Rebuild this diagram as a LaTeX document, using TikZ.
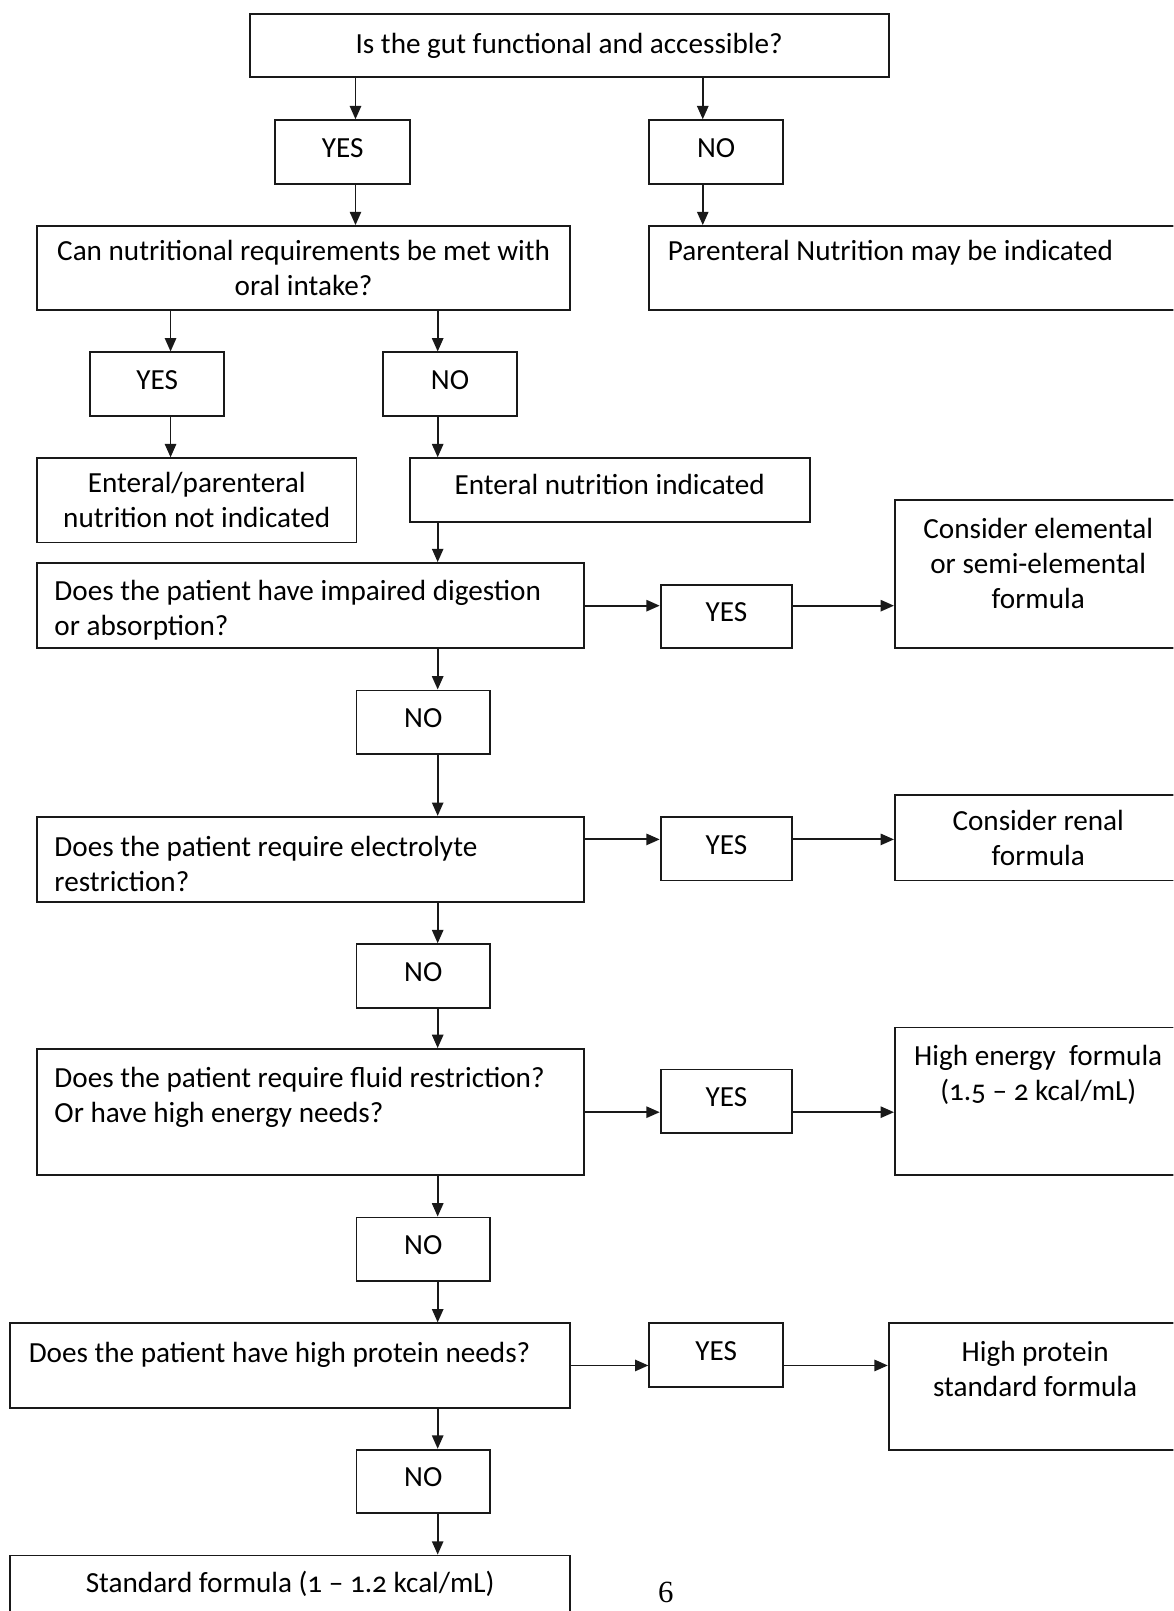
\documentclass[tikz,border=0pt]{standalone}
\usepackage{fontspec}
\setmainfont{Carlito}[Numbers=OldStyle]
\newfontfamily\pagefont{Liberation Serif}
\usetikzlibrary{arrows.meta}
\tikzset{
    box/.style={draw=black!90, line width=0.9pt, inner sep=2pt, font=\fontsize{14.2}{17}\selectfont},
    leftbox/.style={align=flush left, text width=#1},
    answer/.style={align=center, text depth=4pt},
    arr/.style={draw=black!90, line width=0.9pt, -{Triangle[length=6.5pt,width=5.5pt]}}
}
\NewDocumentCommand{\flowbox}{O{align=center} m m m m m m}{
    \node[box, #1, minimum width={(#5-#3)*0.5pt}, minimum height={(#6-#4)*0.5pt}]
        (#2) at ({(#3+#5)/2},{(#4+#6)/2}) {#7};
}
\begin{document}
\begin{tikzpicture}[x=0.5pt, y=-0.5pt]
        \useasboundingbox (0,0) rectangle (1142,1568);
        \clip (0,0) rectangle (1142,1568);
        \coordinate (colA) at (346,0);
        \coordinate (colB) at (684,0);
        \coordinate (colC) at (166,0);
        \coordinate (colD) at (426,0);
        \coordinate (rowD) at (0,817);

        % First question
        \flowbox{gut}{243}{14}{865}{75}{Is the gut functional and accessible?}
        \flowbox[answer]{yesA}{268}{117}{399}{179}{YES}
        \flowbox[answer]{noA}{632}{117}{762}{179}{NO}
        \flowbox{oral}{36}{220}{555}{302}{Can nutritional requirements be met with\\oral intake?}
        \flowbox[leftbox=241pt]{pn}{632}{220}{1150}{302}{Parenteral Nutrition may be indicated\\\mbox{}}
        \draw[arr] (gut.south -| colA) -- (yesA.north -| colA);
        \draw[arr] (gut.south -| colB) -- (noA.north -| colB);
        \draw[arr] (yesA.south -| colA) -- (oral.north -| colA);
        \draw[arr] (noA.south -| colB) -- (pn.north -| colB);

        % Oral intake
        \flowbox[answer]{yesB}{88}{343}{218}{405}{YES}
        \flowbox[answer]{noB}{373}{343}{503}{405}{NO}
        \flowbox{notind}{36}{446}{347}{528}{Enteral/parenteral\\nutrition not indicated}
        \flowbox[align=center, text depth=6pt]{enind}{399}{446}{788}{508}{Enteral nutrition indicated}
        \draw[arr] (oral.south -| colC) -- (yesB.north -| colC);
        \draw[arr] (oral.south -| colD) -- (noB.north -| colD);
        \draw[arr] (yesB.south -| colC) -- (notind.north -| colC);

        % Formula questions
        \flowbox[leftbox=249pt]{dig}{36}{548}{568}{631}{\rule{0pt}{14.5pt}Does the patient have impaired digestion\\or absorption?}
        \flowbox[answer]{yesC}{643}{569}{771}{631}{YES}
        \flowbox{elem}{871}{487}{1150}{631}{Consider elemental\\or semi-elemental\\formula\\[-6pt]\mbox{}}
        \flowbox[answer]{noC}{347}{672}{477}{734}{NO}
        \flowbox[leftbox=249pt]{elec}{36}{795}{568}{878}{\rule{0pt}{14.5pt}Does the patient require electrolyte\\restriction?}
        \flowbox[answer]{yesD}{643}{795}{771}{857}{YES}
        \flowbox{renal}{871}{774}{1150}{857}{Consider renal\\formula}
        \flowbox[answer]{noD}{347}{919}{477}{981}{NO}
        \flowbox[leftbox=249pt]{fluid}{36}{1021}{568}{1144}{Does the patient require fluid restriction?\\Or have high energy needs?\\\mbox{}}
        \flowbox[answer]{yesE}{643}{1041}{771}{1103}{YES}
        \flowbox{energy}{871}{1000}{1150}{1144}{High energy~ formula\\(1.5 – 2 kcal/mL)\\\mbox{}\\[-6pt]\mbox{}}
        \flowbox[answer]{noE}{347}{1185}{477}{1247}{NO}
        \flowbox[leftbox=254.5pt]{protein}{10}{1288}{555}{1370}{Does the patient have high protein needs?\\[-4pt]\mbox{}}
        \flowbox[answer]{yesF}{632}{1288}{762}{1350}{YES}
        \flowbox{highp}{865}{1288}{1150}{1411}{High protein\\standard formula\\\mbox{}}
        \flowbox[answer]{noF}{347}{1411}{477}{1473}{NO}
        \flowbox{std}{10}{1514}{555}{1600}{Standard formula (1 – 1.2 kcal/mL)\\\mbox{}}

        % Spine of NO answers
        \foreach \a/\b in {noB/enind, enind/dig, dig/noC, noC/elec, elec/noD, noD/fluid, fluid/noE, noE/protein, protein/noF, noF/std}
            \draw[arr] (\a.south -| colD) -- (\b.north -| colD);

        % YES branches
        \draw[arr] (dig.east) -- (dig.east -| yesC.west);
        \draw[arr] (yesC.east |- dig.east) -- (dig.east -| elem.west);
        \draw[arr] (elec.east |- rowD) -- (yesD.west |- rowD);
        \draw[arr] (yesD.east |- rowD) -- (renal.west |- rowD);
        \draw[arr] (fluid.east) -- (fluid.east -| yesE.west);
        \draw[arr] (yesE.east |- fluid.east) -- (fluid.east -| energy.west);
        \draw[arr] (protein.east) -- (protein.east -| yesF.west);
        \draw[arr] (yesF.east |- protein.east) -- (protein.east -| highp.west);

        % Page number
        \node[font=\pagefont\fontsize{15}{17}\selectfont] (pagenum) at (648,1550) {6};
\end{tikzpicture}
\end{document}
